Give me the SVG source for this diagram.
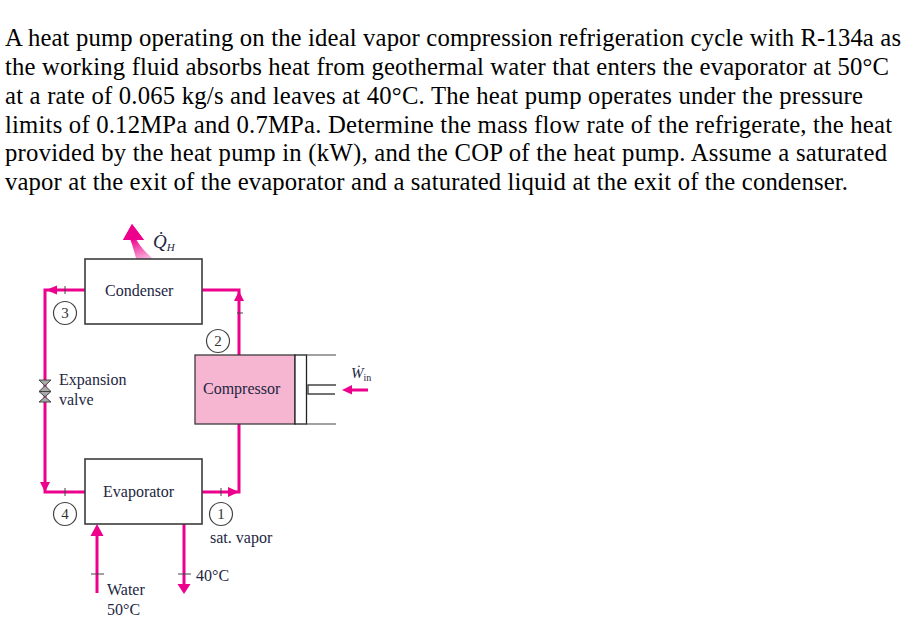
<svg xmlns="http://www.w3.org/2000/svg" width="914" height="633" viewBox="0 0 914 633">
<style>
text{font-family:"Liberation Serif","Times New Roman",serif;fill:#000}
.q{font-size:24.7px}
.l{font-size:16px;fill:#23263f}
.box{fill:#fff;stroke:#3c3c3c;stroke-width:1.6}
.pipe{fill:none;stroke:#ec008c;stroke-width:3}
.tick{stroke:#444;stroke-width:1;fill:none}
.num{fill:#fff;stroke:#444;stroke-width:1.2}
.nt{font-size:15px;text-anchor:middle;fill:#333}
.head{fill:#ec008c}
</style>
<defs>
<linearGradient id="fade" gradientUnits="userSpaceOnUse" x1="134" y1="238" x2="145" y2="270">
<stop offset="0" stop-color="#ec008c"/><stop offset="1" stop-color="#ec008c" stop-opacity="0"/>
</linearGradient>
</defs>
<rect width="914" height="633" fill="#fff"/>
<g id="problem-text">
<text class="q" x="5" y="46" textLength="896">A heat pump operating on the ideal vapor compression refrigeration cycle with R-134a as</text>
<text class="q" x="5" y="75" textLength="884">the working fluid absorbs heat from geothermal water that enters the evaporator at 50°C</text>
<text class="q" x="5" y="104" textLength="858">at a rate of 0.065 kg/s and leaves at 40°C.  The heat pump operates under the pressure</text>
<text class="q" x="5" y="133" textLength="887">limits of 0.12MPa and 0.7MPa.  Determine the mass flow rate of the refrigerate, the heat</text>
<text class="q" x="5" y="161" textLength="882">provided by the heat pump in (kW), and the COP of the heat pump.  Assume a saturated</text>
<text class="q" x="5" y="190" textLength="843">vapor at the exit of the evaporator and a saturated liquid at the exit of the condenser.</text>
</g>
<g id="connectors">
<path class="pipe" d="M85 290H45V492H85"/>
<path class="pipe" d="M202 290H239V355"/>
<path class="pipe" d="M202 492H239V424"/>
<path class="pipe" d="M97 593V532"/>
<path class="pipe" d="M184 524V586"/>
<path class="head" d="M46 284.500L58 290L46 295.500Z" transform="translate(-1 0) rotate(0)" opacity="0"/>
<path class="head" d="M46 290L57 285.500V294.500Z"/>
<path class="head" d="M239 291L234 301H244Z"/>
<path class="head" d="M45 492L40 482H50Z"/>
<path class="head" d="M239 492L228 487V497Z"/>
<path class="head" d="M97 524L90.500 536H103.500Z"/>
<path class="head" d="M184 594L177.500 584H190.500Z"/>
<path class="tick" d="M65 286V294M65 488V496M221 488V496M91 574H104M178 574H191M237 313H243"/>
</g>
<g id="heat-out">
<path d="M123 240L132 224L144 240H136.500C141 248 147 253 152 258L139 270C136 258 134 250 130.500 240Z" fill="url(#fade)"/>
<path d="M123 240L132 224L144 240Z" class="head"/>
<text x="153" y="248" style="font-size:19px;font-style:italic;fill:#23263f">Q̇<tspan font-size="11" dy="3">H</tspan></text>
</g>
<g id="condenser">
<rect class="box" x="85" y="259" width="117" height="65"/>
<text class="l" x="105" y="296">Condenser</text>
</g>
<g id="evaporator">
<rect class="box" x="85" y="459" width="117" height="65"/>
<text class="l" x="103" y="497">Evaporator</text>
</g>
<g id="compressor">
<rect x="195" y="355" width="100" height="69" fill="#f6b6d2" stroke="#3c3c3c" stroke-width="1.300"/>
<rect x="295" y="355" width="11.500" height="69" fill="#fff" stroke="#222" stroke-width="1.300"/>
<path d="M306 355H336M306 424H336" fill="none" stroke="#444" stroke-width="1.200"/>
<path d="M336 385H308V394H335" fill="#fff" stroke="#444" stroke-width="1.400"/>
<text class="l" x="203" y="394">Compressor</text>
</g>
<g id="work-in">
<path class="head" d="M368 388.500H352V385L342 390L352 394.500V391.500H368Z"/>
<text x="351" y="378" style="font-size:15px;font-style:italic;fill:#23263f">Ẇ<tspan font-size="10" font-style="normal" dy="3">in</tspan></text>
</g>
<g id="expansion-valve">
<path d="M39 380H51L39 391.500H51L39 402H51L39 391.500H51Z" fill="#aaa" stroke="#444" stroke-width="1"/>
<text class="l" x="59" y="385">Expansion</text>
<text class="l" x="59" y="405">valve</text>
</g>
<g id="state-3"><circle class="num" cx="65" cy="313" r="11.500"/><text class="nt" x="65" y="318">3</text></g>
<g id="state-2"><circle class="num" cx="218" cy="341" r="11.500"/><text class="nt" x="218" y="346">2</text></g>
<g id="state-4"><circle class="num" cx="65" cy="514" r="11.500"/><text class="nt" x="65" y="519">4</text></g>
<g id="state-1"><circle class="num" cx="221" cy="514" r="11.500"/><text class="nt" x="221" y="519">1</text></g>
<g id="stream-labels">
<text class="l" x="210" y="543">sat. vapor</text>
<text class="l" x="196" y="581">40°C</text>
<text class="l" x="107" y="595">Water</text>
<text class="l" x="107" y="615">50°C</text>
</g>
</svg>
